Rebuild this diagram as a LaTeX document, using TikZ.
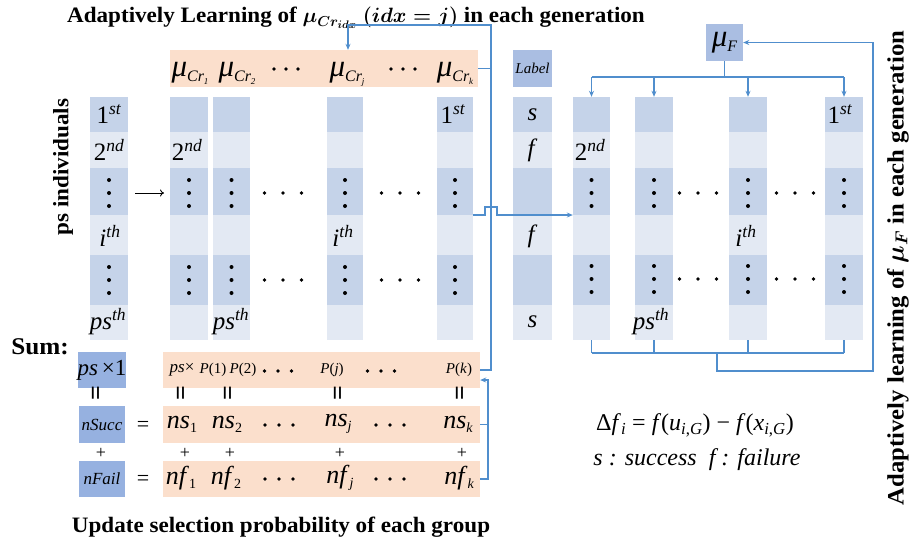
\documentclass[tikz,border=0pt]{standalone}
\usepackage{fontspec}
\setmainfont{Liberation Serif}
\newfontfamily\hdfont{Liberation Serif}[FakeStretch=1.05]
\usetikzlibrary{arrows.meta}
\definecolor{celldk}{RGB}{197,211,233}
\definecolor{celllt}{RGB}{227,233,243}
\definecolor{boxmd}{RGB}{150,177,224}
\definecolor{boxlb}{RGB}{170,190,226}
\definecolor{orng}{RGB}{251,223,204}
\definecolor{lnblue}{RGB}{80,142,205}

\newcommand\gridcol[3]{%
  \foreach \ya/\yb/\cc in {97/132/celldk,132/168/celllt,168/215/celldk,215/255/celllt,255/305/celldk,305/340/celllt}
    {\fill[fill=\cc] (#2,\ya) rectangle (#3,\yb);}
  \node[inner sep=0pt, minimum width={(#3-#2)*1pt}, minimum height=243pt] (#1) at ({(#2+#3)/2},218.5) {};
}
\newcommand\vdts[2]{\foreach \d in {-13,0,13}{\fill ({#1},{#2+\d}) circle (2pt);}}
\newcommand\hdts[3]{\foreach \d in {-1,0,1}{\fill ({#1+#3*\d},{#2}) circle (1.9pt);}}
\newcommand\ordst[2]{#1\textsuperscript{\itshape #2}}
\newcommand\ordit[2]{\textit{#1}\textsuperscript{\itshape #2}}
\newcommand\muCr[1]{{\fontsize{31}{31}\selectfont\itshape μ}\raisebox{-5pt}{\fontsize{16}{16}\selectfont\itshape Cr\raisebox{-3pt}{\fontsize{9}{9}\selectfont #1}}}
\newcommand\nsub[2]{\textit{#1}\raisebox{-4pt}{\fontsize{14}{14}\selectfont #2}}

\begin{document}
\begin{tikzpicture}[x=1pt,y=-1pt,
  lab/.style={inner sep=0pt, font=\fontsize{25}{28}\selectfont},
  hd/.style={inner sep=0pt, font=\hdfont\bfseries\fontsize{22}{24}\selectfont},
  link/.style={draw=lnblue, line width=1.2pt},
  arr/.style={link, -{Stealth[length=6pt,width=5pt]}},
  orow/.style={fill=orng, inner sep=0pt, minimum width=317pt, minimum height=36pt},
  sbox/.style={fill=boxmd, inner sep=0pt, minimum width=46pt, minimum height=36pt},
  sml/.style={inner sep=0pt, font=\fontsize{15}{18}\selectfont},
  mid/.style={inner sep=0pt, font=\fontsize{26}{28}\selectfont},
  sgn/.style={inner sep=0pt, font=\fontsize{18}{18}\selectfont}
]
\useasboundingbox (0,0) rectangle (909,542);

% titles
\node[hd] (title) at (356,18) {Adaptively Learning of {\boldmath$\mu_{Cr_{idx}}$} {\boldmath$(idx=j)$} in each generation};
\node[hd, rotate=90] (psind) at (63,167) {ps individuals};
\node[hd, font=\hdfont\bfseries\fontsize{23.5}{24}\selectfont, rotate=90] (rtitle) at (898,268) {Adaptively learning of {\boldmath$\mu_{F}$} in each generation};
\node[hd] (bottom) at (281,527) {Update selection probability of each group};
\node[hd, font=\hdfont\bfseries\fontsize{24}{24}\selectfont] (sum) at (40,347) {Sum:};

% top orange bar
\node[fill=orng, inner sep=0pt, minimum width=308pt, minimum height=37pt] (topbar) at (324,68.5) {};
\node[inner sep=0pt, anchor=base] (m1) at (190,76) {\muCr{1}};
\node[inner sep=0pt, anchor=base] (m2) at (237,76) {\muCr{2}};
\hdts{286}{69}{12}
\node[inner sep=0pt, anchor=base] (mj) at (347,76) {\muCr{\itshape j}};
\hdts{403}{69}{12}
\node[inner sep=0pt, anchor=base] (mk) at (455,76) {\muCr{\itshape k}};

% left grid
\gridcol{L0}{90}{128}
\gridcol{L1}{170}{208}
\gridcol{L2}{213}{250}
\gridcol{L3}{327}{363}
\gridcol{L4}{437}{473}
\node[lab] (l01) at (109,114.5) {\ordst{1}{st}};
\node[lab] (l02) at (109,150) {\ordst{2}{nd}};
\vdts{109}{193}
\node[lab] (l04) at (110,236) {\ordit{i}{th}};
\vdts{109}{280}
\node[lab] (l06) at (108,322) {\ordit{ps}{th}};
\coordinate (aS) at (135,193);
\coordinate (aE) at (164,193);
\draw[-{To[length=4pt,width=7pt]}, line width=0.9pt] (aS) -- (aE);
\node[lab] (l12) at (187,150) {\ordst{2}{nd}};
\vdts{189}{193} \vdts{189}{280}
\vdts{231.5}{193} \vdts{231.5}{280}
\node[lab] (l26) at (231,322) {\ordit{ps}{th}};
\hdts{283}{193}{18.5} \hdts{283}{280}{18.5}
\vdts{345}{193} \vdts{345}{280}
\node[lab] (l34) at (343,236) {\ordit{i}{th}};
\hdts{400}{193}{18.5} \hdts{400}{280}{18.5}
\node[lab] (l41) at (453,114.5) {\ordst{1}{st}};
\vdts{455}{193} \vdts{455}{280}

% right grid
\node[fill=boxlb, inner sep=0pt, minimum width=39pt, minimum height=37pt, font=\fontsize{15}{18}\selectfont\itshape] (label) at (532.5,68.5) {Label};
\gridcol{LB}{513}{552}
\node[lab] (s1) at (532.5,114.5) {\textit{s}};
\node[lab] (f2) at (532.5,150) {\textit{f}};
\node[lab] (f4) at (532.5,236) {\textit{f}};
\node[lab] (s6) at (532.5,322) {\textit{s}};
\gridcol{R1}{573}{610}
\gridcol{R2}{635}{673}
\gridcol{R3}{729}{767}
\gridcol{R4}{825}{863}
\node[lab] (r12) at (590,150) {\ordst{2}{nd}};
\vdts{591.5}{193} \vdts{591.5}{279}
\vdts{654}{193} \vdts{654}{279}
\node[lab] (r26) at (651,322) {\ordit{ps}{th}};
\hdts{698}{193}{18.5} \hdts{698}{279}{18.5}
\vdts{748}{193} \vdts{748}{279}
\node[lab] (r34) at (746,236) {\ordit{i}{th}};
\hdts{795}{193}{18.5} \hdts{795}{279}{18.5}
\node[lab] (r41) at (840,114.5) {\ordst{1}{st}};
\vdts{844}{193} \vdts{844}{279}

\node[fill=boxlb, inner sep=0pt, minimum width=37pt, minimum height=37pt] (muF) at (724.5,42.5) {{\fontsize{31}{31}\selectfont\itshape μ}\raisebox{-5pt}{\fontsize{16}{16}\selectfont\itshape F}};

% sum rows
\node[sbox, font=\fontsize{23}{24}\selectfont] (sA) at (102,370) {\textit{ps}\,×1};
\node[sbox, minimum height=37pt, font=\fontsize{17}{18}\selectfont\itshape] (sB) at (102,424.5) {nSucc};
\node[sbox, font=\fontsize{17}{18}\selectfont\itshape] (sC) at (102,479) {nFail};
\node[orow] (prow) at (321.5,370) {};
\node[orow, minimum height=37pt] (nsrow) at (321.5,424.5) {};
\node[orow] (nfrow) at (321.5,479) {};

\node[inner sep=0pt, font=\fontsize{17}{18}\selectfont] (psx) at (182,370) {\textit{ps}×};
\node[sml] (p1) at (213,370) {\textit{P}(1)};
\node[sml] (p2) at (243,370) {\textit{P}(2)};
\hdts{278}{371}{13.5}
\node[sml] (pj) at (332,370) {\textit{P}(\textit{j})};
\hdts{381}{371}{13.5}
\node[sml] (pk) at (459,370) {\textit{P}(\textit{k})};

\foreach \xx/\nm in {98/e0,183/e1,230/e2,340/e3,462/e4}
  \node[sgn, rotate=90, font=\bfseries\fontsize{26}{26}\selectfont] (\nm) at (\xx,393) {=};
\foreach \xx/\nm in {101/q0,185/q1,230/q2,340/q3,462/q4}
  \node[sgn] (\nm) at (\xx,453) {+};

\node[mid, font=\fontsize{22}{24}\selectfont] (eqB) at (143,426) {=};
\node[mid, font=\fontsize{22}{24}\selectfont] (eqC) at (143,480) {=};
\node[mid] (ns1) at (182,424) {\nsub{ns}{1}};
\node[mid] (ns2) at (227,424) {\nsub{ns}{2}};
\hdts{279}{425}{14}
\node[mid] (nsj) at (338,424) {\nsub{ns}{\itshape j}};
\hdts{390}{425}{14}
\node[mid] (nsk) at (458,424) {\nsub{ns}{\itshape k}};
\node[mid] (nf1) at (181,478) {\nsub{nf}{1}};
\node[mid] (nf2) at (226,478) {\nsub{nf}{2}};
\hdts{279}{479}{14}
\node[mid] (nfj) at (340,478) {\nsub{nf}{\itshape j}};
\hdts{390}{479}{14}
\node[mid] (nfk) at (459,478) {\nsub{nf}{\itshape k}};

% formula
\node[inner sep=0pt, font=\fontsize{24}{26}\selectfont] (delta) at (695,425) {Δ\textit{f}\textsubscript{\textit{i}} = \textit{f}(\textit{u}\textsubscript{\textit{i},\textit{G}}) − \textit{f}(\textit{x}\textsubscript{\textit{i},\textit{G}})};
\node[inner sep=0pt, font=\fontsize{24}{26}\selectfont\itshape] (sf) at (697,460) {s : success\enspace f : failure};

% connectors
\coordinate (vA) at (491,25);
\coordinate (tA) at (348,25);
\draw[arr] (prow.east) -| (vA) -- (tA) -- (tA |- topbar.north);
\draw[link] (topbar.east) -- (topbar.east -| vA);
\coordinate (yB) at (0,215);
\coordinate (h1) at (485,207);
\coordinate (h2) at (497,207);
\draw[arr] (L4.east |- yB) -- (h1 |- yB) -- (h1) -- (h2) -- (h2 |- yB) -- (R1.west |- yB);
\coordinate (vC) at (488,380);
\draw[link] (nsrow.east) -- (nsrow.east -| vC);
\draw[arr] (nfrow.east) -| (vC) -- (vC -| prow.east);

\coordinate (hT) at (0,77);
\draw[link] (muF.south) -- (muF.south |- hT);
\draw[link] (R1.north |- hT) -- (R4.north |- hT);
\foreach \c in {R1,R2,R3,R4} \draw[arr] (\c.north |- hT) -- (\c.north);
\coordinate (hB) at (0,353);
\foreach \c in {R1,R2,R3,R4} \draw[link] (\c.south) -- (\c.south |- hB);
\draw[link] (R1.south |- hB) -- (R4.south |- hB);
\coordinate (jB) at (717,353);
\coordinate (cF) at (873,371);
\draw[arr] (jB) |- (cF) -- (cF |- muF.east) -- (muF.east);
\end{tikzpicture}
\end{document}
